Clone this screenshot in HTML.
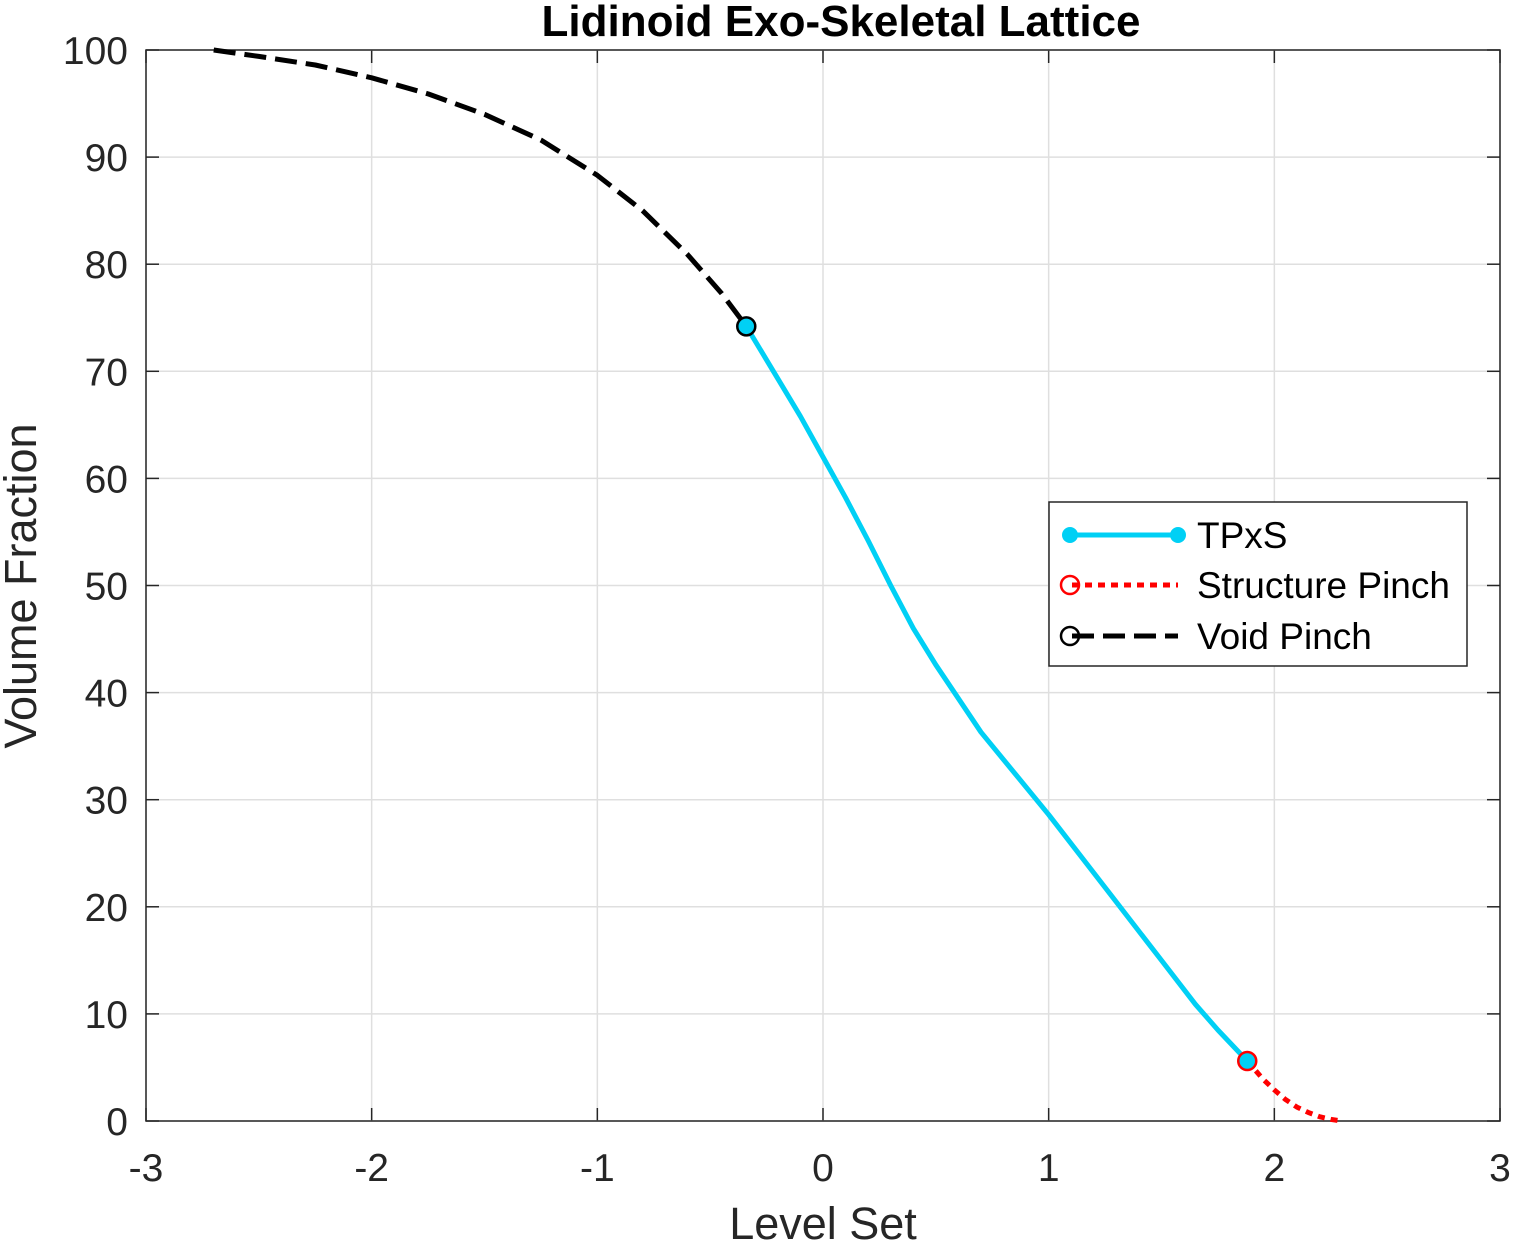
<!DOCTYPE html>
<html><head><meta charset="utf-8"><style>
body{margin:0;background:#fff}
svg text{font-family:"Liberation Sans",Arial,sans-serif;fill:#262626}
</style></head><body>
<svg id="c" width="1513" height="1244" xmlns="http://www.w3.org/2000/svg"></svg>
<script>
const xTicks=[-3,-2,-1,0,1,2,3];
const yTicks=[0,10,20,30,40,50,60,70,80,90,100];
const voidX=[-2.7,-2.5,-2.25,-2,-1.75,-1.5,-1.25,-1,-0.8,-0.6,-0.45,-0.34];
const voidY=[100,99.4,98.6,97.4,95.9,94.0,91.6,88.3,85.0,80.9,77.3,74.2];
const tpxsX=[-0.34,-0.2,-0.1,0,0.1,0.2,0.3,0.4,0.5,0.7,1,1.25,1.5,1.65,1.75,1.88];
const tpxsY=[74.2,69.3,65.8,62.0,58.2,54.2,50.0,46.0,42.6,36.3,28.6,21.8,15.0,10.9,8.5,5.6];
const pinchX=[1.88,1.95,2.0,2.05,2.1,2.15,2.2,2.25,2.3];
const pinchY=[5.6,3.9,2.9,2.0,1.3,0.8,0.4,0.15,0];
const svg=document.getElementById('c');const NS='http://www.w3.org/2000/svg';
const X0=146,X1=1500,Y0=1121,Y1=50;
const sx=v=>X0+(v+3)/6*(X1-X0), sy=v=>Y0-v/100*(Y0-Y1);
function mk(t,a,p){const e=document.createElementNS(NS,t);for(const k in a)e.setAttribute(k,a[k]);(p||svg).appendChild(e);return e;}
const bg=mk('rect',{x:X0,y:Y1,width:X1-X0,height:Y0-Y1,fill:'#fff'});


xTicks.forEach(t=>{const g=mk('line',{x1:sx(t),x2:sx(t),y1:Y1,y2:Y0,stroke:'#dfdfdf','stroke-width':1.5});


mk('line',{x1:sx(t),x2:sx(t),y1:Y0,y2:Y0-13,stroke:'#262626','stroke-width':1.5});
mk('line',{x1:sx(t),x2:sx(t),y1:Y1,y2:Y1+13,stroke:'#262626','stroke-width':1.5});
const l=mk('text',{x:sx(t),y:1181,'text-anchor':'middle','font-size':39});l.textContent=t;

});
yTicks.forEach(t=>{const g=mk('line',{x1:X0,x2:X1,y1:sy(t),y2:sy(t),stroke:'#dfdfdf','stroke-width':1.5});


mk('line',{x1:X0,x2:X0+13,y1:sy(t),y2:sy(t),stroke:'#262626','stroke-width':1.5});
mk('line',{x1:X1,x2:X1-13,y1:sy(t),y2:sy(t),stroke:'#262626','stroke-width':1.5});
const l=mk('text',{x:128,y:sy(t)+14,'text-anchor':'end','font-size':39});l.textContent=t;

});
const fr=mk('rect',{x:X0,y:Y1,width:X1-X0,height:Y0-Y1,fill:'none',stroke:'#262626','stroke-width':1.5});


function line(xs,ys,st,name){const d=xs.map((x,i)=>(i?'L':'M')+sx(x).toFixed(1)+','+sy(ys[i]).toFixed(1)).join('');
const p=mk('path',Object.assign({d:d,fill:'none','stroke-linejoin':'round'},st));}
line(tpxsX,tpxsY,{stroke:'#00d0f5','stroke-width':5},'tpxs-line');
line(voidX,voidY,{stroke:'#000','stroke-width':5,'stroke-dasharray':'22,9'},'void-pinch-line');
line(pinchX,pinchY,{stroke:'#f00','stroke-width':5,'stroke-dasharray':'7,6'},'structure-pinch-line');
const m1=mk('circle',{cx:sx(voidX[voidX.length-1]),cy:sy(voidY[voidY.length-1]),r:9,fill:'#00d0f5',stroke:'#000','stroke-width':2.5});


const m2=mk('circle',{cx:sx(pinchX[0]),cy:sy(pinchY[0]),r:9,fill:'#00d0f5',stroke:'#f00','stroke-width':2.5});


</script>
<svg style="position:absolute;left:0;top:0" width="1513" height="1244" xmlns="http://www.w3.org/2000/svg">
<text x="841" y="36" text-anchor="middle" font-size="44" font-weight="bold" style="fill:#000">Lidinoid Exo-Skeletal Lattice</text>
<text x="823" y="1239" text-anchor="middle" font-size="45">Level Set</text>
<text transform="translate(36,586) rotate(-90)" text-anchor="middle" font-size="45">Volume Fraction</text>
<g>
<rect x="1049" y="502" width="418" height="164" fill="#fff" stroke="#262626" stroke-width="1.5"/>
<g>
<line x1="1070" x2="1178" y1="535" y2="535" stroke="#00d0f5" stroke-width="5"/>
<circle cx="1070" cy="535" r="8" fill="#00d0f5"/><circle cx="1178" cy="535" r="8" fill="#00d0f5"/>
<text x="1197" y="548" font-size="37" style="fill:#000">TPxS</text></g>
<g>
<line x1="1072" x2="1178" y1="585" y2="585" stroke="#f00" stroke-width="5" stroke-dasharray="7,6"/>
<circle cx="1070" cy="585" r="9" fill="none" stroke="#f00" stroke-width="2.5"/>
<text x="1197" y="598" font-size="37" style="fill:#000">Structure Pinch</text></g>
<g>
<line x1="1072" x2="1178" y1="636" y2="636" stroke="#000" stroke-width="5" stroke-dasharray="22,9"/>
<circle cx="1070" cy="636" r="9" fill="none" stroke="#000" stroke-width="2.5"/>
<text x="1197" y="649" font-size="37" style="fill:#000">Void Pinch</text></g>
</g>
</svg>
</body></html>
